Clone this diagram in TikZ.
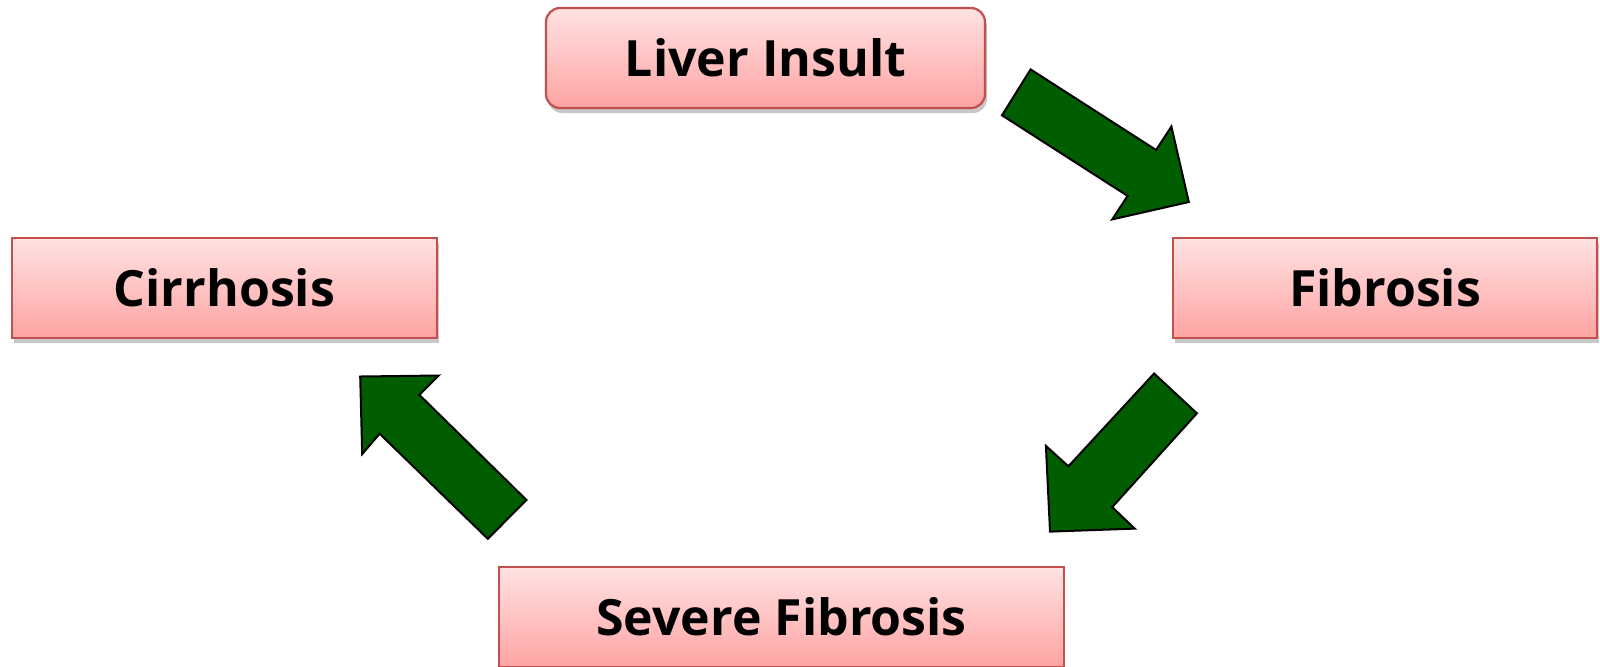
\documentclass[tikz,border=0pt]{standalone}
\usepackage{fontspec}
\setmainfont{Open Sans}
\definecolor{boxtop}{RGB}{255,226,226}
\definecolor{boxbot}{RGB}{255,163,163}
\definecolor{boxline}{RGB}{196,80,77}
\definecolor{arrowgreen}{RGB}{0,94,0}
\tikzset{
  stagebox/.style={draw=boxline, line width=1.1pt, top color=boxtop, bottom color=boxbot,
    minimum height=50pt, inner sep=0pt, font=\bfseries\fontsize{25}{30}\selectfont,
    text=black},
  shadowbox/.style={fill=black!22, draw=none},
  blockarrow/.style={fill=arrowgreen, draw=black, line width=1pt, line join=miter},
}
\begin{document}
\begin{tikzpicture}[x=0.5pt,y=-0.5pt]
\useasboundingbox (0,0) rectangle (1600,666);
\fill[white] (0,0) rectangle (1600,666);
% shadows
\fill[shadowbox, rounded corners=7pt] (548,13) rectangle (987,113);
\fill[shadowbox] (14,243) rectangle (439,343);
\fill[shadowbox] (1175,243) rectangle (1599,343);
% boxes
\node[stagebox, rounded corners=7pt, minimum width=219.5pt] (liver) at (765.5,58) {\raisebox{-1pt}{Liver Insult}};
\node[stagebox, minimum width=212.5pt] (cirr) at (224.5,288) {\raisebox{-1pt}{Cirrhosis}};
\node[stagebox, minimum width=212pt] (fib) at (1385,288) {\raisebox{-1pt}{Fibrosis}};
\node[stagebox, minimum width=282.5pt] (sev) at (781.5,617) {\raisebox{-1pt}{Severe Fibrosis}};
% arrows
\draw[blockarrow] (1030.6,69.4) -- (1156.1,150.0) -- (1171.4,126.5) -- (1188.8,202.0)
  -- (1112.2,219.4) -- (1127.6,195.9) -- (1002.0,115.3) -- cycle;
\draw[blockarrow] (1154.1,373.5) -- (1196.9,413.3) -- (1112.2,507.1) -- (1134.7,528.6)
  -- (1050.0,531.6) -- (1045.9,445.9) -- (1068.4,466.3) -- cycle;
\draw[blockarrow] (526.5,500) -- (487.8,538.8) -- (379.6,433.7) -- (362.2,454.1)
  -- (360.2,376.5) -- (438.8,375.5) -- (419.4,394.9) -- cycle;
\end{tikzpicture}
\end{document}
